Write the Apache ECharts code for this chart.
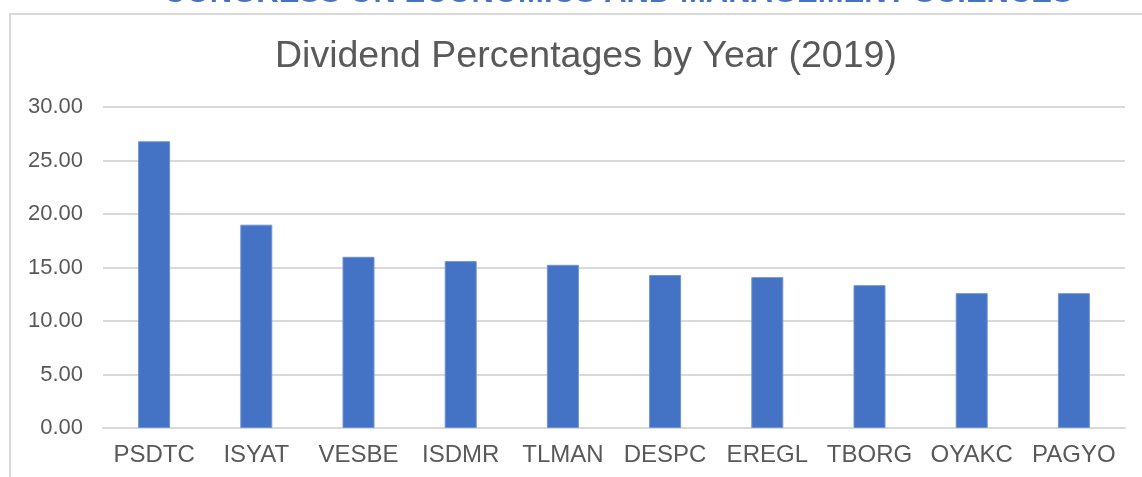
<!DOCTYPE html>
<html>
<head>
<meta charset="utf-8">
<script src="https://cdn.jsdelivr.net/npm/echarts@6/dist/echarts.min.js"></script>
<style>
html,body{margin:0;padding:0;background:#fff;}
#c{width:1142px;height:477px;}
</style>
</head>
<body>
<div id="c"></div>
<script>
const titleText = 'Dividend Percentages by Year (2019)';
const headerText = 'CONGRESS ON ECONOMICS AND MANAGEMENT SCIENCES';
const categories = ['PSDTC','ISYAT','VESBE','ISDMR','TLMAN','DESPC','EREGL','TBORG','OYAKC','PAGYO'];
const values = [26.8, 19.0, 16.0, 15.6, 15.25, 14.3, 14.1, 13.35, 12.6, 12.6];

const chart = echarts.init(document.getElementById('c'), null, {renderer:'canvas'});
chart.setOption({
  backgroundColor:'#ffffff',
  animation:false,
  title:{
    text:titleText,
    left:270,
    top:33,
    textStyle:{fontFamily:'Liberation Sans, Arial, sans-serif',fontSize:37.5,fontWeight:'normal',color:'#595959'}
  },
  graphic:[
    {type:'rect',shape:{x:10,y:14,width:1200,height:520},style:{fill:'none',stroke:'#d9d9d9',lineWidth:2},z:-1},
    {type:'text',x:618,y:9,style:{text:headerText,fontFamily:'Liberation Sans, Arial, sans-serif',fontSize:31,fontWeight:'bold',fill:'#4472c4',align:'center',verticalAlign:'bottom'}}
  ],
  grid:{left:103,right:17,top:107,bottom:49,containLabel:false},
  xAxis:{
    type:'category',
    data:categories,
    axisLine:{show:true,lineStyle:{color:'#d9d9d9',width:2}},
    axisTick:{show:false},
    axisLabel:{interval:0,color:'#595959',fontSize:24,fontFamily:'Liberation Sans, Arial, sans-serif',margin:15}
  },
  yAxis:{
    type:'value',
    min:0,max:30,interval:5,
    axisLine:{show:false},
    axisTick:{show:false},
    splitLine:{lineStyle:{color:'#d9d9d9',width:2}},
    axisLabel:{color:'#595959',fontSize:22,fontFamily:'Liberation Sans, Arial, sans-serif',margin:20,formatter:v=>v.toFixed(2)}
  },
  series:[{
    type:'bar',
    data:values,
    barWidth:32,
    itemStyle:{color:'#4472c4',borderColor:'#6f93d3',borderWidth:1}
  }]
});
</script>
</body>
</html>
